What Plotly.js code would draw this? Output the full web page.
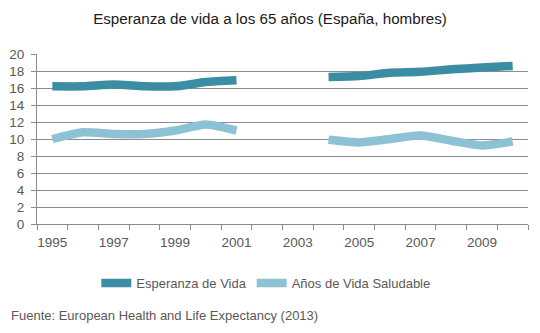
<!DOCTYPE html>
<html>
<head>
<meta charset="utf-8">
<script src="https://cdn.plot.ly/plotly-3.0.1.min.js"></script>
<style>html,body{margin:0;padding:0;background:#fff;}#chart{width:540px;height:333px;}</style>
</head>
<body>
<div id="chart"></div>
<script>
const years = [1995,1996,1997,1998,1999,2000,2001,2002,2003,2004,2005,2006,2007,2008,2009,2010];
const esperanza = [16.2,16.2,16.4,16.2,16.2,16.7,16.9,null,null,17.3,17.4,17.8,17.9,18.2,18.4,18.6];
const saludable = [10.0,10.8,10.6,10.6,11.0,11.7,11.0,null,null,9.9,9.6,10.0,10.4,9.8,9.25,9.7];
const xTickVals = [1995,1997,1999,2001,2003,2005,2007,2009];
const xBoundaries = [1994.5,1995.5,1996.5,1997.5,1998.5,1999.5,2000.5,2001.5,2002.5,2003.5,2004.5,2005.5,2006.5,2007.5,2008.5,2009.5,2010.5];
const yTickVals = [0,2,4,6,8,10,12,14,16,18,20];

const font = "Liberation Sans, Arial, sans-serif";
const data = [
  {x: years, y: esperanza, name: 'Esperanza de Vida', type: 'scatter', mode: 'lines',
   line: {color: '#3a8da2', width: 8.5, shape: 'spline', smoothing: 0.6}, connectgaps: false},
  {x: years, y: saludable, name: 'Años de Vida Saludable', type: 'scatter', mode: 'lines',
   line: {color: '#8dc1d4', width: 8.5, shape: 'spline', smoothing: 0.6}, connectgaps: false},
  {x: [xBoundaries[0]], y: [0], xaxis: 'x2', type: 'scatter', mode: 'markers',
   marker: {opacity: 0}, showlegend: false, hoverinfo: 'skip'}
];
const layout = {
  width: 540, height: 333,
  margin: {l: 37, r: 12, t: 54, b: 109},
  paper_bgcolor: '#fff', plot_bgcolor: '#fff',
  font: {family: font, color: '#595959', size: 12},
  title: {text: 'Esperanza de vida a los 65 años (España, hombres)', x: 0.5, xanchor: 'center',
          y: 0.945, yanchor: 'middle', font: {family: font, size: 15.2, color: '#1a1a1a'}},
  xaxis: {range: [1994.5, 2010.5], tickmode: 'array', tickvals: xTickVals,
          ticktext: xTickVals.map(String), ticks: '', showgrid: false, zeroline: false,
          showline: true, linecolor: '#8c8c8c', linewidth: 1,
          tickfont: {family: font, size: 13.5, color: '#595959'}, ticklabelstandoff: 6},
  xaxis2: {range: [1994.5, 2010.5], overlaying: 'x', tickmode: 'array', tickvals: xBoundaries,
           ticks: 'outside', ticklen: 5, tickcolor: '#8c8c8c', showticklabels: false,
           showgrid: false, zeroline: false, side: 'bottom'},
  yaxis: {range: [0, 20], tickmode: 'array', tickvals: yTickVals, ticks: 'outside', ticklen: 5,
          tickcolor: '#8c8c8c', showgrid: true, gridcolor: '#8c8c8c', gridwidth: 1,
          zeroline: false, showline: true, linecolor: '#8c8c8c', linewidth: 1,
          tickfont: {family: font, size: 13.5, color: '#595959'}, ticklabelstandoff: 4},
  legend: {orientation: 'h', x: 0.466, xanchor: 'center', y: -0.347, yanchor: 'middle',
           font: {family: font, size: 13, color: '#595959'}, itemwidth: 30},
  annotations: [{text: 'Fuente: European Health and Life Expectancy (2013)', xref: 'paper', yref: 'paper',
                 x: -0.058, xanchor: 'left', y: -0.54, yanchor: 'middle', showarrow: false,
                 font: {family: font, size: 13, color: '#595959'}}],
  showlegend: true
};
Plotly.newPlot('chart', data, layout, {staticPlot: true});
</script>
</body>
</html>
